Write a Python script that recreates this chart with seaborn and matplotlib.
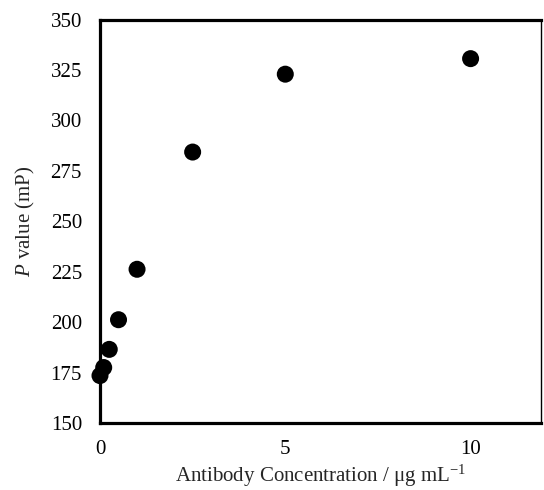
import matplotlib
matplotlib.use("Agg")
import matplotlib.pyplot as plt
import seaborn as sns
import pandas as pd

concentration = [0, 0.1, 0.25, 0.5, 1, 2.5, 5, 10]
p_value = [173.5, 177.5, 186.5, 201.2, 226.2, 284.3, 322.9, 330.6]

x_ticks = [0, 5, 10]
y_ticks = [150, 175, 200, 225, 250, 275, 300, 325, 350]

sns.set_style("white")
plt.rcParams["font.family"] = ["Liberation Serif", "DejaVu Serif"]
plt.rcParams["mathtext.fontset"] = "custom"
plt.rcParams["mathtext.rm"] = "Liberation Serif"
plt.rcParams["mathtext.it"] = "Liberation Serif:italic"

df = pd.DataFrame({"conc": concentration, "p": p_value})

fig = plt.figure(figsize=(5.44, 4.90), dpi=100)
ax = fig.add_axes([0.1838, 0.1367, 0.8107, 0.8235])

sns.scatterplot(data=df, x="conc", y="p", ax=ax, color="black", s=150,
                edgecolor="none", linewidth=0, zorder=3, clip_on=False)

ax.set_xlim(0, 11.9)
ax.set_ylim(150, 350)
ax.set_xticks(x_ticks)
ax.set_yticks(y_ticks)

for side in ["left", "bottom", "top"]:
    ax.spines[side].set_linewidth(2.3)
    ax.spines[side].set_color("black")
ax.spines["right"].set_linewidth(1.0)
ax.spines["right"].set_color("black")

ax.tick_params(axis="both", direction="in", length=4, width=1.5, colors="black",
               labelsize=15, top=False, right=False)
ax.tick_params(axis="x", pad=12)
ax.tick_params(axis="y", pad=13)

ax.set_xlabel("Antibody Concentration / μg mL$^{\\mathregular{-1}}$", fontsize=15, labelpad=3)
ax.set_ylabel(r"$\mathit{P}$ value (mP)", fontsize=15, labelpad=10)

fig.savefig("out.png", dpi=100)
